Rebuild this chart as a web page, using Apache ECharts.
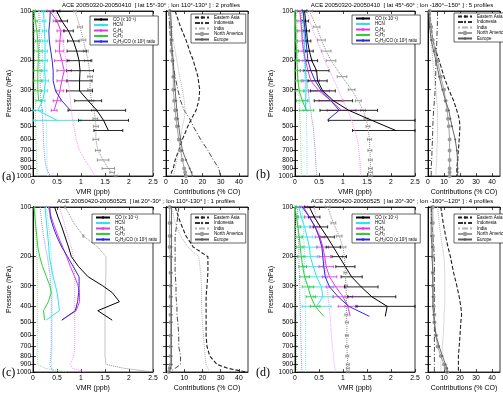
<!DOCTYPE html>
<html>
<head>
<meta charset="utf-8">
<script src="https://cdn.jsdelivr.net/npm/echarts@6/dist/echarts.min.js"></script>
<style>
html, body { margin: 0; padding: 0; background: #fff; }
#chart { width: 503px; height: 393px; }
</style>
</head>
<body>
<div id="chart"></div>
<script>
// pressure levels (hPa)
const P_ACE = [100, 115, 132, 152, 175, 200, 230, 265, 305, 350, 400, 460, 530];
const P_ACE_C = [100, 115, 132, 152, 175, 200, 230, 265, 300, 330, 375, 425, 485];
const P_MOD = [100, 125, 150, 175, 200, 250, 300, 350, 400, 450, 500, 600, 700, 800, 900, 950, 1000];
const Y_TICKS = [100, 200, 300, 400, 500, 600, 700, 800, 900, 1000];

const ACE_NAMES = ['CO (x 10⁻¹)', 'HCN', 'C₂H₆', 'C₂H₂', 'C₂H₂/CO (x 10³) ratio'];
const REGIONS = ['Eastern Asia', 'Indonesia', 'India', 'North America', 'Europe'];
const TITLES = [
    'ACE 20050320-20050410  [ lat 15°-30° ; lon 110°-130° ] : 2 profiles',
    'ACE 20050320-20050410  [ lat 45°-60° ; lon -180°--150° ] : 5 profiles',
    'ACE 20050420-20050525  [ lat 20°-30° ; lon 110°-130° ] : 1 profiles',
    'ACE 20050420-20050525  [ lat 20°-30° ; lon -160°--120° ] : 4 profiles'
];

// ---- panel (a) ----
const a_co = [0.49, 0.6, 0.74, 0.84, 0.91, 0.96, 0.98, 0.97, 0.97, 1.15, 1.33, 1.47, 1.57];
const a_coErr = [0.07, 0.12, 0.1, 0.12, 0.2, 0.25, 0.28, 0.26, 0.27, 0.28, 0.6, 0.52, 0.3];
const a_hcn = [0.22, 0.23, 0.24, 0.25, 0.25, 0.25, 0.24, 0.26, 0.24, 0.2, 0.1, 0.5, null];
const a_hcnErr = [0.04, 0.04, 0.04, 0.05, 0.05, 0.05, 0.05, 0.06, 0.06, 0.05, 0.1, 0.5, null];
const a_c2h6 = [0.35, 0.5, 0.58, 0.56, 0.55, 0.6, 0.65, 0.6, 0.56, 0.5, 0.44, null, null];
const a_c2h6Err = [0.05, 0.08, 0.08, 0.08, 0.08, 0.15, 0.15, 0.1, 0.08, 0.08, 0.06, null, null];
const a_c2h2 = [0.02, 0.05, 0.08, 0.1, 0.11, 0.11, 0.1, 0.1, 0.1, 0.12, null, null, null];
const a_c2h2Err = [0.03, 0.04, 0.05, 0.05, 0.08, 0.08, 0.08, 0.08, 0.08, 0.06, null, null, null];
const a_ratio = [0.36, 0.35, 0.33, 0.34, 0.37, 0.4, 0.42, 0.42, 0.47, 0.6, 0.78, null, null];
const a_mCO = [0.875, 0.98, 1.05, 1.1, 1.15, 1.19, 1.19, 1.22, 1.27, 1.3, 1.31, 1.31, 1.35, 1.46, 1.57, 1.65, 1.72];
const a_mErr = [0.03, 0.05, 0.05, 0.05, 0.08, 0.05, 0.05, 0.05, 0.05, 0.05, 0.05, 0.06, 0.05, 0.12, 0.13, 0.05, 0.03];
const a_mHCN = [0.14, 0.16, 0.18, 0.19, 0.2, 0.22, 0.24, 0.25, 0.26, 0.27, 0.28, 0.28, 0.29, 0.29, 0.3, 0.3, 0.3];
const a_mC2H6 = [0.46, 0.55, 0.62, 0.66, 0.69, 0.72, 0.76, 0.78, 0.8, 0.82, 0.85, 0.9, 0.97, 1.08, 1.2, 1.25, 1.28];
const a_mC2H2 = [0.02, 0.02, 0.03, 0.03, 0.03, 0.04, 0.04, 0.05, 0.05, 0.05, 0.06, 0.06, 0.07, 0.07, 0.08, 0.08, 0.09];
const a_mRatio = [0.12, 0.13, 0.13, 0.14, 0.14, 0.15, 0.15, 0.17, 0.19, 0.2, 0.21, 0.22, 0.23, 0.25, 0.28, 0.32, 0.36];
const a_ea = [5, 8, 11, 13, 15, 17.5, 18.5, 18, 16.5, 14, 12, 9, 7, 5, 4, 3, 2.5];
const a_indo = [1.5, 2, 2.5, 3, 3.5, 5, 6.5, 8, 10, 13, 15, 19, 23, 26, 29, 29.5, 29.5];
const a_india = [2, 3, 4, 5, 6, 7.5, 9, 10, 10.5, 10, 9, 8, 7, 6, 5, 4.5, 4];
const a_na = [2, 2.5, 3, 3, 3.5, 4, 4, 4.5, 5, 5.5, 6, 7, 8, 9, 10, 10.5, 11];
const a_eu = [2.5, 3, 3, 3.5, 4, 4.5, 5, 5.5, 6, 6.5, 7, 8, 9, 11, 13, 14, 14.5];

// ---- panel (b) ----
const b_co = [0.2, 0.22, 0.24, 0.26, 0.3, 0.35, 0.45, 0.47, 0.58, 0.8, 1.12, 1.6, 2.1];
const b_coErr = [0.05, 0.06, 0.06, 0.07, 0.08, 0.12, 0.26, 0.2, 0.26, 0.4, 0.6, 0.9, 0.9];
const b_hcn = [0.17, 0.18, 0.19, 0.2, 0.2, 0.21, 0.22, 0.23, 0.23, 0.22, 0.22, null, null];
const b_hcnErr = [0.04, 0.04, 0.04, 0.04, 0.05, 0.05, 0.05, 0.05, 0.05, 0.05, 0.05, null, null];
const b_c2h6 = [0.1, 0.12, 0.14, 0.15, 0.18, 0.22, 0.27, 0.33, 0.5, 0.75, 0.97, null, null];
const b_c2h6Err = [0.05, 0.06, 0.08, 0.1, 0.12, 0.14, 0.16, 0.18, 0.22, 0.25, 0.3, null, null];
const b_c2h2 = [0, 0.01, 0.02, 0.02, 0.03, 0.04, 0.05, 0.06, 0.09, 0.15, 0.24, null, null];
const b_c2h2Err = [0.02, 0.02, 0.03, 0.03, 0.04, 0.05, 0.06, 0.07, 0.1, 0.12, 0.15, null, null];
const b_ratio = [0.17, 0.19, 0.21, 0.23, 0.25, 0.27, 0.33, 0.42, 0.55, 0.75, 0.92, 0.67, null];
const b_mCO = [0.3, 0.45, 0.55, 0.65, 0.75, 0.98, 1.18, 1.32, 1.42, 1.48, 1.52, 1.55, 1.56, 1.57, 1.57, 1.57, 1.57];
const b_mErr = [0.06, 0.07, 0.08, 0.1, 0.1, 0.1, 0.07, 0.06, 0.05, 0.04, 0.04, 0.04, 0.04, 0.04, 0.04, 0.04, 0.04];
const b_mHCN = [0.14, 0.16, 0.17, 0.18, 0.19, 0.2, 0.22, 0.23, 0.24, 0.24, 0.24, 0.25, 0.25, 0.25, 0.25, 0.25, 0.25];
const b_mC2H6 = [0.25, 0.35, 0.45, 0.55, 0.62, 0.78, 0.9, 1.0, 1.1, 1.17, 1.22, 1.3, 1.33, 1.35, 1.36, 1.36, 1.36];
const b_mC2H2 = [0.03, 0.04, 0.04, 0.05, 0.05, 0.06, 0.08, 0.09, 0.1, 0.1, 0.11, 0.12, 0.12, 0.13, 0.13, 0.13, 0.13];
const b_mRatio = [0.12, 0.14, 0.16, 0.18, 0.2, 0.24, 0.27, 0.3, 0.33, 0.35, 0.38, 0.4, 0.42, 0.43, 0.44, 0.45, 0.45];
const b_ea = [1, 2, 3, 5, 7, 10, 13, 16, 18, 19.5, 20, 19.5, 19, 18.5, 18, 18, 18];
const b_indo = [6, 5.8, 5.5, 5.3, 5, 4.8, 4.5, 4, 3.5, 3.2, 3, 2.8, 2.5, 2.3, 2, 2, 2];
const b_india = [1, 1.5, 2, 2.5, 3, 4, 5, 5.5, 6, 6, 6, 6, 5.5, 5.5, 5, 5, 5];
const b_na = [1, 2, 3, 4.5, 6, 8, 10, 11, 12, 12.5, 13, 13.5, 13.5, 13.5, 13.5, 13.5, 13.5];
const b_eu = [0.5, 1, 2, 3.5, 5, 7, 9, 11, 13, 14, 15, 17, 18, 18.5, 18.5, 18.5, 18.5];

// ---- panel (c) ----
const c_co = [0.45, 0.52, 0.6, 0.67, 0.74, 0.8, 0.95, 1.15, 1.45, 1.65, 1.8, 1.35, 1.65];
const c_hcn = [0.25, 0.27, 0.29, 0.31, 0.33, 0.34, 0.38, 0.42, 0.47, 0.5, 0.53, 0.55, 0.27];
const c_c2h6 = [0.32, 0.38, 0.45, 0.53, 0.62, 0.7, 0.78, 0.87, 0.94, 0.97, 0.97, 0.9, 0.6];
const c_c2h2 = [0.02, 0.04, 0.06, 0.08, 0.1, 0.14, 0.2, 0.28, 0.35, 0.38, 0.32, 0.22, 0.24];
const c_ratio = [0.35, 0.36, 0.42, 0.5, 0.6, 0.72, 0.84, 0.96, 0.96, 0.95, 0.93, 0.88, 0.6];
const c_mCO = [0.67, 0.85, 1.05, 1.35, 1.52, 1.52, 1.51, 1.5, 1.5, 1.5, 1.5, 1.5, 1.5, 1.5, 1.52, 1.9, 2.5];
const c_mErr = [0.01, null, 0.01, null, null, null, null, null, null, null, null, null, null, null, null, null, null];
const c_mHCN = [0.28, 0.32, 0.35, 0.37, 0.38, 0.39, 0.4, 0.4, 0.4, 0.4, 0.4, 0.4, 0.4, 0.39, 0.38, 0.4, 0.45];
const c_mC2H6 = [0.55, 0.65, 0.73, 0.8, 0.84, 0.86, 0.87, 0.87, 0.87, 0.87, 0.87, 0.87, 0.87, 0.85, 0.78, 0.82, 1.1];
const c_mC2H2 = [0.04, 0.05, 0.06, 0.07, 0.08, 0.09, 0.09, 0.09, 0.09, 0.09, 0.09, 0.09, 0.09, 0.09, 0.1, 0.25, 0.7];
const c_mRatio = [0.15, 0.18, 0.22, 0.26, 0.3, 0.35, 0.37, 0.38, 0.38, 0.38, 0.38, 0.38, 0.38, 0.37, 0.35, 0.38, 0.42];
const c_ea = [5, 8, 11, 15, 23, 23, 22.5, 22, 22, 22, 22, 22, 22.5, 24, 28, 34, 44];
const c_indo = [7, 6, 5, 5, 5, 5, 5.5, 5.5, 6, 6, 6.5, 7, 7, 8, 8, 5, 2];
const c_india = [3, 5, 8, 12, 18, 19, 19.5, 19.5, 19.5, 19.7, 20, 20.5, 21, 21.5, 22, 23, 24];
const c_na = [2, 2, 2, 2, 2.5, 2.5, 2.5, 2.5, 2.5, 2.5, 2.5, 2.5, 2.5, 2.5, 2.5, 2, 1.5];
const c_eu = [3, 3, 3, 3, 3, 3, 3, 3, 3, 3, 3, 3, 3, 3, 3, 2.5, 2];

// ---- panel (d) ----
const d_co = [0.3, 0.4, 0.53, 0.67, 0.8, 0.92, 1.05, 1.18, 1.38, 1.6, 1.92, 1.88, null];
const d_coErr = [0.1, 0.12, 0.15, 0.15, 0.15, 0.15, 0.2, 0.22, 0.35, 0.5, 0.65, null, null];
const d_hcn = [0.08, 0.13, 0.2, 0.25, 0.3, 0.32, 0.38, 0.45, 0.55, 0.58, 0.45, null, null];
const d_hcnErr = [0.05, 0.07, 0.1, 0.12, 0.15, 0.15, 0.2, 0.22, 0.25, 0.2, 0.3, null, null];
const d_c2h6 = [0.18, 0.3, 0.42, 0.52, 0.58, 0.62, 0.65, 0.72, 0.85, 1.0, 1.1, 1.15, null];
const d_c2h6Err = [0.08, 0.1, 0.1, 0.1, 0.12, 0.12, 0.15, 0.15, 0.2, 0.2, 0.2, null, null];
const d_c2h2 = [0, 0.03, 0.06, 0.09, 0.11, 0.13, 0.16, 0.2, 0.27, 0.33, 0.42, 0.6, null];
const d_c2h2Err = [0.03, 0.04, 0.06, 0.07, 0.08, 0.08, 0.08, 0.1, 0.12, 0.1, 0.1, null, null];
const d_ratio = [0.15, 0.3, 0.42, 0.5, 0.56, 0.58, 0.6, 0.63, 0.72, 0.9, 1.12, 1.55, null];
const d_mCO = [0.68, 0.8, 0.92, 1.0, 1.03, 1.05, 1.06, 1.07, 1.07, 1.07, 1.08, 1.08, 1.08, 1.09, 1.1, 1.1, 1.1];
const d_mErr = [0.05, 0.05, 0.06, 0.06, 0.04, 0.03, 0.03, 0.03, 0.03, 0.03, 0.03, 0.03, 0.03, 0.03, 0.03, 0.03, 0.03];
const d_mHCN = [0.15, 0.17, 0.18, 0.19, 0.2, 0.2, 0.21, 0.21, 0.22, 0.22, 0.22, 0.22, 0.22, 0.22, 0.22, 0.22, 0.22];
const d_mC2H6 = [0.4, 0.47, 0.52, 0.56, 0.6, 0.64, 0.67, 0.69, 0.71, 0.73, 0.74, 0.76, 0.78, 0.8, 0.82, 0.83, 0.84];
const d_mC2H2 = [0, 0.005, 0.01, 0.01, 0.015, 0.015, 0.02, 0.02, 0.02, 0.025, 0.025, 0.03, 0.03, 0.03, 0.03, 0.03, 0.03];
const d_mRatio = [0.05, 0.06, 0.07, 0.08, 0.08, 0.09, 0.1, 0.1, 0.11, 0.11, 0.12, 0.12, 0.13, 0.13, 0.14, 0.14, 0.15];
const d_ea = [8, 9.5, 11, 12.5, 14, 16, 18, 19.5, 20.5, 21, 20.5, 20, 19.5, 19, 19, 19, 19];
const d_indo = [2, 2.5, 3, 3.5, 4, 4, 4, 4, 4, 4, 4, 4, 4, 4, 4, 4, 4];
const d_india = [6, 7, 8, 9, 10, 10.5, 10.5, 10.5, 10.5, 10, 10, 9.5, 9, 8.5, 8, 8, 8];
const d_na = [3, 3, 3, 3, 3, 3, 3, 3.5, 3.5, 4, 4, 5, 6, 8, 10, 11, 12];
const d_eu = [2, 2, 2, 2.5, 2.5, 3, 3, 3, 3, 3.5, 4, 5, 7, 9, 11, 12, 12];

const panels = [
    { ace: P_ACE, co: a_co, coErr: a_coErr, hcn: a_hcn, hcnErr: a_hcnErr, c2h6: a_c2h6, c2h6Err: a_c2h6Err, c2h2: a_c2h2, c2h2Err: a_c2h2Err, ratio: a_ratio,
      mCO: a_mCO, mErr: a_mErr, mHCN: a_mHCN, mC2H6: a_mC2H6, mC2H2: a_mC2H2, mRatio: a_mRatio, regions: [a_ea, a_indo, a_india, a_na, a_eu] },
    { ace: P_ACE, co: b_co, coErr: b_coErr, hcn: b_hcn, hcnErr: b_hcnErr, c2h6: b_c2h6, c2h6Err: b_c2h6Err, c2h2: b_c2h2, c2h2Err: b_c2h2Err, ratio: b_ratio,
      mCO: b_mCO, mErr: b_mErr, mHCN: b_mHCN, mC2H6: b_mC2H6, mC2H2: b_mC2H2, mRatio: b_mRatio, regions: [b_ea, b_indo, b_india, b_na, b_eu] },
    { ace: P_ACE_C, co: c_co, coErr: null, hcn: c_hcn, hcnErr: null, c2h6: c_c2h6, c2h6Err: null, c2h2: c_c2h2, c2h2Err: null, ratio: c_ratio,
      mCO: c_mCO, mErr: c_mErr, mHCN: c_mHCN, mC2H6: c_mC2H6, mC2H2: c_mC2H2, mRatio: c_mRatio, regions: [c_ea, c_indo, c_india, c_na, c_eu] },
    { ace: P_ACE, co: d_co, coErr: d_coErr, hcn: d_hcn, hcnErr: d_hcnErr, c2h6: d_c2h6, c2h6Err: d_c2h6Err, c2h2: d_c2h2, c2h2Err: d_c2h2Err, ratio: d_ratio,
      mCO: d_mCO, mErr: d_mErr, mHCN: d_mHCN, mC2H6: d_mC2H6, mC2H2: d_mC2H2, mRatio: d_mRatio, regions: [d_ea, d_indo, d_india, d_na, d_eu] }
];

// layout in px (left plot x/y, right plot x/width, legends, title centre, letter)
const layout = [
    { x: 33, y: 11, rx: 166, rw: 82, lgL: [90, 16], lgR: [191, 14], tx: 151, ty: 5, let: '(a)', lx: 2, ly: 177 },
    { x: 295, y: 11, rx: 428, rw: 72, lgL: [352, 15], lgR: [454, 13], tx: 402, ty: 5, let: '(b)', lx: 256, ly: 175 },
    { x: 33, y: 207, rx: 166, rw: 82, lgL: [92, 214], lgR: [191, 214], tx: 146, ty: 201, let: '(c)', lx: 2, ly: 373 },
    { x: 295, y: 207, rx: 428, rw: 72, lgL: [352, 214], lgR: [454, 214], tx: 402, ty: 201, let: '(d)', lx: 256, ly: 373 }
];

const FONT = 'Liberation Sans, Arial, sans-serif';
const C_CO = '#000', C_HCN = '#2ee3ea', C_C2H6 = '#e23ae2', C_C2H2 = '#2fcf2f', C_RATIO = '#2a2ad6', C_MOD = '#8a8a8a';
const M_HCN = '#86e6f2', M_C2H6 = '#f296f2', M_C2H2 = '#8ee08e', M_RATIO = '#8c8ce6';
const REG_STYLE = [
    { color: '#222', type: [4, 2], width: 1.1, symbol: 'none' },
    { color: '#333', type: [5, 2, 1, 2], width: 0.9, symbol: 'none' },
    { color: '#b4b4b4', type: 'dotted', width: 1, symbol: 'none' },
    { color: '#9a9a9a', type: 'solid', width: 0.9, symbol: 'emptyCircle' },
    { color: '#5a5a5a', type: 'solid', width: 0.9, symbol: 'circle' }
];

const lg = p => Math.log10(p);
const yTickVals = Y_TICKS.map(lg);

function pairs(vals, levels) {
    const out = [];
    vals.forEach((v, k) => { if (v != null) out.push([v, lg(levels[k])]); });
    return out;
}

function lineSeries(name, vals, levels, g, color, type, width, symbol) {
    return {
        name: name, type: 'line', xAxisIndex: 2 * g, yAxisIndex: 2 * g,
        data: pairs(vals, levels),
        symbol: symbol || 'none', symbolSize: 2, showSymbol: !!symbol && symbol !== 'none',
        lineStyle: { color: color, type: type || 'solid', width: width || 1 },
        itemStyle: { color: color, borderWidth: 0.6 },
        silent: true, animation: false, z: 3
    };
}

function errSeries(vals, errs, levels, g, color, xmax) {
    const data = [];
    if (errs) {
        vals.forEach((v, k) => {
            if (v != null && errs[k] != null) data.push([v - errs[k], v + errs[k], lg(levels[k])]);
        });
    }
    return {
        type: 'custom', xAxisIndex: 2 * g, yAxisIndex: 2 * g, data: data,
        encode: { x: [0, 1], y: 2 }, silent: true, animation: false, z: 3,
        renderItem: function (params, api) {
            const y = api.value(2);
            const a = api.coord([Math.max(api.value(0), 0), y]);
            const b = api.coord([Math.min(api.value(1), xmax), y]);
            const st = { stroke: color, lineWidth: 0.9 };
            return {
                type: 'group', children: [
                    { type: 'line', shape: { x1: a[0], y1: a[1], x2: b[0], y2: b[1] }, style: st },
                    { type: 'line', shape: { x1: a[0], y1: a[1] - 1.5, x2: a[0], y2: a[1] + 1.5 }, style: st },
                    { type: 'line', shape: { x1: b[0], y1: b[1] - 1.5, x2: b[0], y2: b[1] + 1.5 }, style: st }
                ]
            };
        }
    };
}

const grids = [], xAxes = [], yAxes = [], series = [], legends = [], graphics = [];
const axLine = { lineStyle: { color: '#000', width: 0.8 } };

function addGrid(left, top, width, xmax, xint, xname, showY) {
    const g = grids.length;
    grids.push({ left: left, top: top, width: width, height: 165, show: true, borderColor: '#000', borderWidth: 0.8,
        backgroundColor: '#fff', containLabel: false, outerBoundsMode: 'none' });
    const xBase = { gridIndex: g, type: 'value', min: 0, max: xmax, interval: xint, splitLine: { show: false },
        axisLine: axLine, axisTick: { inside: true, length: 3, lineStyle: { color: '#000', width: 0.7 } } };
    xAxes.push(Object.assign({}, xBase, {
        position: 'bottom', name: xname, nameLocation: 'middle', nameGap: 13,
        nameTextStyle: { fontSize: 7, color: '#000', fontFamily: FONT },
        axisLabel: { fontSize: 6.8, color: '#000', fontFamily: FONT, margin: 3, showMaxLabel: xmax === 2.5 }
    }));
    xAxes.push(Object.assign({}, xBase, { position: 'top', axisLabel: { show: false } }));
    const yBase = { gridIndex: g, type: 'value', min: 2, max: 3, inverse: true, splitLine: { show: false },
        axisLine: axLine, axisTick: { inside: true, length: 3, customValues: yTickVals, lineStyle: { color: '#000', width: 0.7 } } };
    yAxes.push(Object.assign({}, yBase, {
        position: 'left', name: showY ? 'Pressure (hPa)' : '', nameLocation: 'middle', nameGap: 16,
        nameTextStyle: { fontSize: 7, color: '#000', fontFamily: FONT },
        axisLabel: { show: showY, customValues: yTickVals, fontSize: 6.5, color: '#000', fontFamily: FONT, margin: 2,
            hideOverlap: false, formatter: v => String(Math.round(Math.pow(10, v))) }
    }));
    yAxes.push(Object.assign({}, yBase, { position: 'right', axisLabel: { show: false } }));
    return g;
}

const legendBase = {
    orient: 'vertical', itemWidth: 14, itemHeight: 3, itemGap: 0.5, padding: [1, 3],
    borderColor: '#000', borderWidth: 0.6, backgroundColor: '#fff', selectedMode: false, z: 10,
    textStyle: { fontSize: 4.5, color: '#000', fontFamily: FONT }
};

panels.forEach((pd, i) => {
    const L = layout[i];
    const gl = addGrid(L.x, L.y, 120, 2.5, 0.5, 'VMR (ppb)', true);
    const gr = addGrid(L.rx, L.y, L.rw, 45, 10, 'Contributions (% CO)', false);

    // model (dotted) profiles
    series.push(lineSeries('mod HCN ' + i, pd.mHCN, P_MOD, gl, M_HCN, 'dotted', 1));
    series.push(lineSeries('mod C2H6 ' + i, pd.mC2H6, P_MOD, gl, M_C2H6, 'dotted', 1));
    series.push(lineSeries('mod C2H2 ' + i, pd.mC2H2, P_MOD, gl, M_C2H2, 'dotted', 1));
    series.push(lineSeries('mod ratio ' + i, pd.mRatio, P_MOD, gl, M_RATIO, 'dotted', 1));
    series.push(lineSeries('mod CO ' + i, pd.mCO, P_MOD, gl, C_MOD, 'dotted', 1));
    series.push(errSeries(pd.mCO, pd.mErr, P_MOD, gl, C_MOD, 2.5));

    // ACE profiles
    series.push(errSeries(pd.hcn, pd.hcnErr, pd.ace, gl, C_HCN, 2.5));
    series.push(errSeries(pd.c2h6, pd.c2h6Err, pd.ace, gl, C_C2H6, 2.5));
    series.push(errSeries(pd.c2h2, pd.c2h2Err, pd.ace, gl, C_C2H2, 2.5));
    series.push(errSeries(pd.co, pd.coErr, pd.ace, gl, '#111', 2.5));
    series.push(lineSeries(ACE_NAMES[1], pd.hcn, pd.ace, gl, C_HCN, 'solid', 1));
    series.push(lineSeries(ACE_NAMES[2], pd.c2h6, pd.ace, gl, C_C2H6, 'solid', 1));
    series.push(lineSeries(ACE_NAMES[3], pd.c2h2, pd.ace, gl, C_C2H2, 'solid', 1));
    series.push(lineSeries(ACE_NAMES[4], pd.ratio, pd.ace, gl, C_RATIO, 'solid', 1));
    series.push(lineSeries(ACE_NAMES[0], pd.co, pd.ace, gl, C_CO, 'solid', 1));

    // source contributions
    pd.regions.forEach((vals, k) => {
        const s = REG_STYLE[k];
        series.push(lineSeries(REGIONS[k], vals, P_MOD, gr, s.color, s.type, s.width, s.symbol));
    });

    legends.push(Object.assign({}, legendBase, { left: L.lgL[0], top: L.lgL[1], data: ACE_NAMES }));
    legends.push(Object.assign({}, legendBase, { left: L.lgR[0], top: L.lgR[1], data: REGIONS }));

    graphics.push({ type: 'text', x: L.tx, y: L.ty, style: { text: TITLES[i], font: '6px ' + FONT, fill: '#000', textAlign: 'center', textVerticalAlign: 'middle' } });
    graphics.push({ type: 'text', x: L.lx, y: L.ly, style: { text: L.let, font: '12px "Liberation Serif", "Times New Roman", serif', fill: '#000', textVerticalAlign: 'middle' } });
});

const chart = echarts.init(document.getElementById('chart'), null, { renderer: 'canvas' });
chart.setOption({
    backgroundColor: '#fff',
    animation: false,
    grid: grids,
    xAxis: xAxes,
    yAxis: yAxes,
    legend: legends,
    series: series,
    graphic: graphics
});
</script>
</body>
</html>
